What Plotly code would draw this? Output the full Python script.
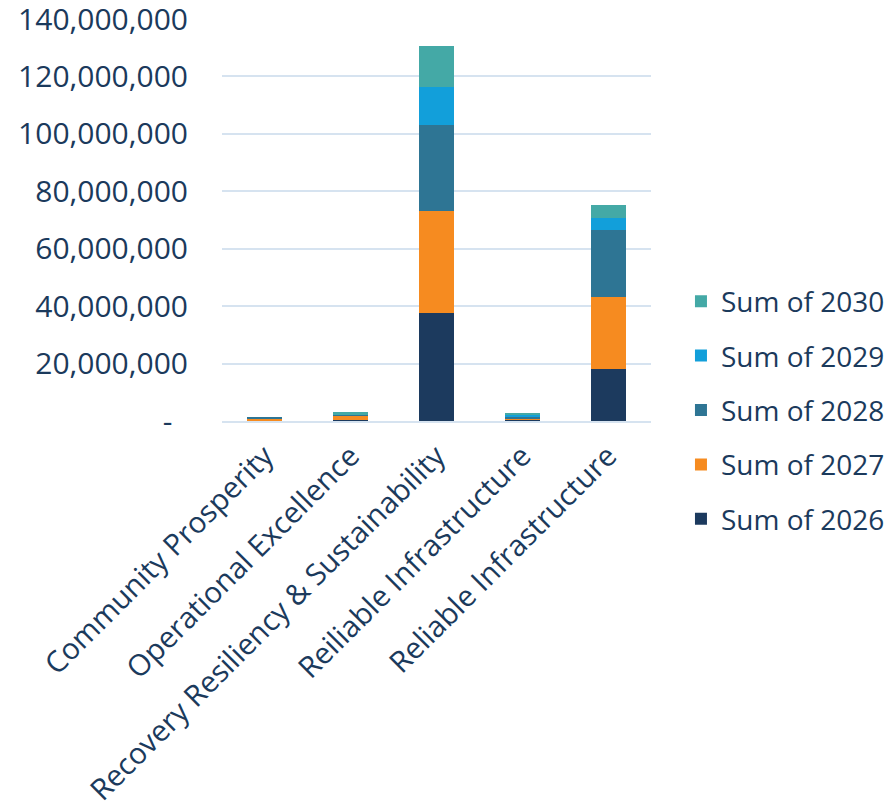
import plotly.graph_objects as go

categories = ["Community Prosperity", "Operational Excellence",
              "Recovery Resiliency & Sustainability", "Reiliable Infrastructure",
              "Reliable Infrastructure"]
series_names = ["Sum of 2026", "Sum of 2027", "Sum of 2028", "Sum of 2029", "Sum of 2030"]
sum_2026 = [100000, 400000, 37600000, 400000, 18100000]
sum_2027 = [900000, 1400000, 35600000, 600000, 25100000]
sum_2028 = [200000, 300000, 29900000, 500000, 23400000]
sum_2029 = [0, 100000, 13300000, 500000, 4100000]
sum_2030 = [0, 900000, 14300000, 900000, 4600000]
tick_vals = [0, 20000000, 40000000, 60000000, 80000000, 100000000, 120000000, 140000000]
tick_text = ["-\u00a0\u00a0", "20,000,000", "40,000,000", "60,000,000", "80,000,000",
             "100,000,000", "120,000,000", "140,000,000"]

colors = ["#1C3A5E", "#F68B20", "#2E7594", "#129FDA", "#44A9A6"]
values = [sum_2026, sum_2027, sum_2028, sum_2029, sum_2030]

text_color = "#1B3A5C"
FONT = "Open Sans, Roboto, sans-serif"
fig = go.Figure()
for i, (name, vals, col) in enumerate(zip(series_names, values, colors)):
    fig.add_trace(go.Bar(x=categories, y=vals, name=name, marker_color=col,
                         marker_line_width=0, legendgroup=name,
                         legendrank=len(series_names) - i))

fig.update_layout(
    barmode="stack",
    bargap=0.59,
    width=887, height=803,
    margin=dict(l=214, r=244, t=11, b=390),
    paper_bgcolor="white", plot_bgcolor="white",
    font=dict(family=FONT, size=28, color=text_color),
    legend=dict(traceorder="grouped", tracegroupgap=15,
                xref="container", yref="container",
                x=0.7587, xanchor="left", y=0.4994, yanchor="middle",
                bgcolor="rgba(0,0,0,0)",
                font=dict(family=FONT, size=28, color=text_color)),
    showlegend=True,
)
fig.update_yaxes(range=[0, 140000000], tickvals=tick_vals, ticktext=tick_text,
                 showgrid=True, gridcolor="#D6E3F0", gridwidth=1.5, zeroline=False,
                 showline=False, ticks="outside", ticklen=27, tickcolor="rgba(0,0,0,0)",
                 automargin=False, ticklabeloverflow="allow",
                 tickfont=dict(family=FONT, size=30, color=text_color))
fig.update_xaxes(tickangle=-45, showline=True, linecolor="#D6E3F0", linewidth=2,
                 ticks="outside", ticklen=4, tickcolor="rgba(0,0,0,0)", automargin=False,
                 ticklabeloverflow="allow",
                 tickfont=dict(family=FONT, size=29.5, color=text_color))
fig.write_html("out.html")
